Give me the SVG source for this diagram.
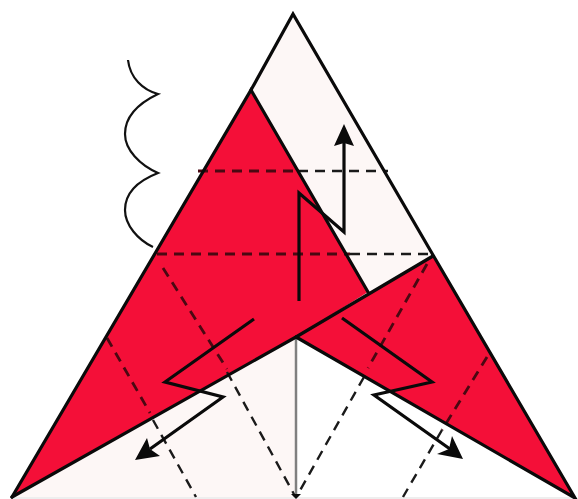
<svg xmlns="http://www.w3.org/2000/svg" width="578" height="499" viewBox="0 0 578 499">
<style>
.edge{fill:none;stroke:#0a0a0a;stroke-width:3.2;stroke-linejoin:miter;stroke-linecap:round}
.red{fill:#f40f38;stroke:none}
.dash{fill:none;stroke:#1a1a1a;stroke-width:2.4;stroke-dasharray:10 7}
.dashr{fill:none;stroke:#4a0812;stroke-width:2.8;stroke-dasharray:10 7}
.fold{fill:none;stroke:#0a0a0a;stroke-width:3.2;stroke-linejoin:miter}
.head{fill:#0a0a0a;stroke:none}
</style>
<rect width="578" height="499" fill="#ffffff"/>
<g id="paper">
<polygon points="293,14 433,255 296,337 12,497" fill="#fdf7f6"/>
<polygon points="296,337 12,497 296,497" fill="#fdf7f6"/>
<line x1="12" y1="498" x2="575" y2="498" stroke="#dddddd" stroke-width="1"/>
</g>
<g id="flaps">
<polygon class="red" points="251,90 368,292 296,337 12,497"/>
<polygon class="red" points="433,256 575,498 296,337"/>
</g>
<g id="connectors">
<line class="dash" x1="298" y1="171" x2="388" y2="171"/>
<line class="dashr" x1="198" y1="171" x2="298" y2="171"/>
<line class="dash" x1="350" y1="254" x2="432" y2="254"/>
<line class="dashr" x1="157" y1="254" x2="350" y2="254"/>
<line class="dashr" x1="163" y1="268" x2="227" y2="369"/>
<line class="dash" x1="227" y1="372" x2="295" y2="496"/>
<line class="dashr" x1="107" y1="338" x2="150" y2="413"/>
<line class="dash" x1="153" y1="420" x2="196" y2="497"/>
<line class="dashr" x1="427" y1="264" x2="368" y2="368"/>
<line class="dash" x1="364" y1="377" x2="298" y2="494"/>
<line class="dashr" x1="487" y1="357" x2="442" y2="430"/>
<line class="dash" x1="442" y1="430" x2="403" y2="497"/>
<line x1="296" y1="337" x2="296" y2="494" stroke="#808080" stroke-width="2.5"/>
<polygon class="head" points="291,494 301,494 296,499"/>
<path class="edge" d="M251,90 L293,14 L433,255 L575,498 L296,337"/>
<path class="edge" d="M12,497 L251,90 L368,292"/>
<path class="edge" d="M12,497 L296,337 L433,256"/>
<path d="M128,60 C130,78 143,90 158,94 C135,105 125,118 125,134 C125,150 140,165 158,173 C135,182 125,195 125,210 C125,225 138,240 153,247" fill="none" stroke="#111" stroke-width="2.2"/>
<path class="fold" d="M299,301 L299,193 L344,232 L344,140"/>
<polygon class="head" points="344,124 354,146 344,143 334,146"/>
<path class="fold" d="M254,319 L165,382 L223,397 L150,449"/>
<polygon class="head" points="135,460 147,438 150,449 160,456"/>
<path class="fold" d="M342,318 L432,382 L374,395 L450,449"/>
<polygon class="head" points="463,459 452,436 449,449 437,454"/>
</g>
</svg>
